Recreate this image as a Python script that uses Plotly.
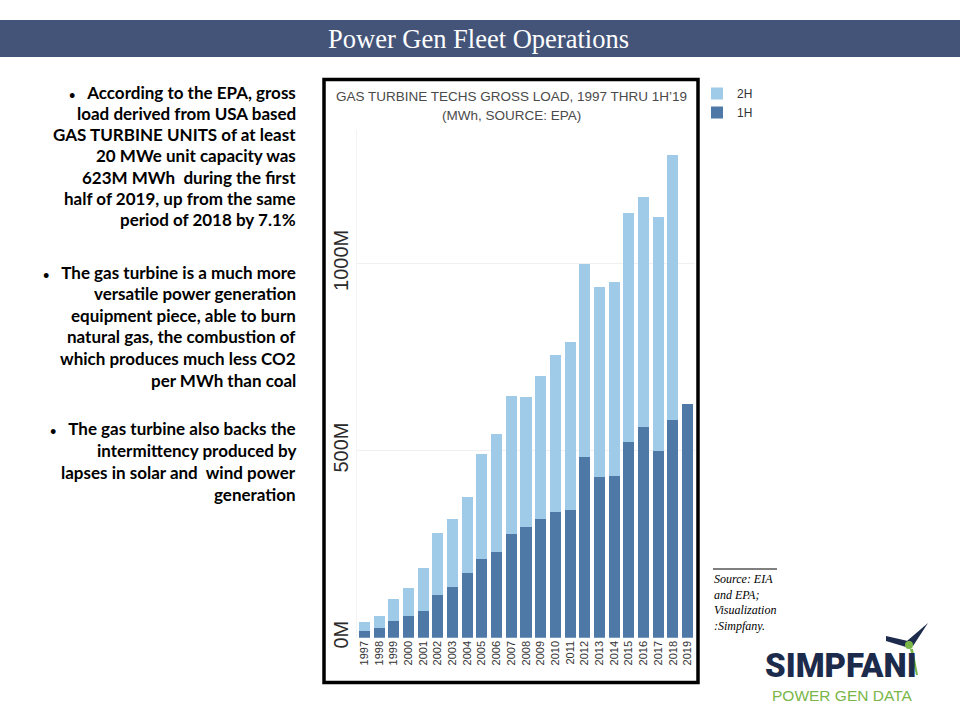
import plotly.graph_objects as go

years = [str(y) for y in range(1997, 2020)]
h1 = [17, 25, 44, 57, 72, 115, 135, 172, 210, 229, 276, 296, 316, 335, 342,
      483, 428, 432, 523, 562, 500, 582, 623]
total = [41, 58, 103, 132, 186, 280, 316, 376, 492, 545, 645, 642, 699, 755, 791,
         997, 937, 950, 1135, 1177, 1124, 1290, None]
h2 = [None if t is None else t - a for t, a in zip(total, h1)]
ytick_vals = [0, 500, 1000]
ytick_text = ["0M", "500M", "1000M"]

W, H = 960, 720
def px(x):
    return x / W
def py(y):
    return 1 - y / H

DARK = "#4e79a7"
LIGHT = "#a0cbe8"

fig = go.Figure()
fig.add_trace(go.Bar(x=years, y=h1, name="1H", marker_color=DARK, marker_line_width=0))
fig.add_trace(go.Bar(x=years, y=h2, name="2H", marker_color=LIGHT, marker_line_width=0))

y_bottom_px = 637.7
y_top_px = 130
scale = 0.3744  # px per M
ymax = (y_bottom_px - y_top_px) / scale

fig.update_layout(
    template="none",
    width=W, height=H,
    margin=dict(l=0, r=0, t=0, b=0, autoexpand=False),
    paper_bgcolor="white", plot_bgcolor="white",
    barmode="stack", bargap=0.25,
    showlegend=True,
    legend=dict(x=px(697), y=py(79), xanchor="left", yanchor="top",
                traceorder="reversed", font=dict(family="Liberation Sans", size=12, color="#333"),
                bgcolor="rgba(0,0,0,0)", itemwidth=30, tracegroupgap=0, borderwidth=0),
    xaxis=dict(domain=[px(357), px(695)], type="category", tickangle=-90, automargin=False,
               tickfont=dict(family="Liberation Sans", size=11, color="#333"),
               showgrid=False, showline=False, zeroline=False, ticks=""),
    yaxis=dict(domain=[py(y_bottom_px), py(y_top_px)], range=[0, ymax], automargin=False,
               tickvals=ytick_vals, ticktext=ytick_text, tickangle=-90,
               tickfont=dict(family="Liberation Sans", size=20, color="#2a2a2a"),
               showgrid=True, gridcolor="#f0f0f0", gridwidth=1,
               zeroline=False, showline=True, linecolor="#f3f3f3", ticks=""),
)

shapes = []
# title bar
shapes.append(dict(type="rect", xref="paper", yref="paper", x0=0, x1=1,
                   y0=py(57), y1=py(20), fillcolor="#445479", line_width=0, layer="below"))
# chart border
shapes.append(dict(type="rect", xref="paper", yref="paper", x0=px(324), x1=px(698),
                   y0=py(682.5), y1=py(79.5), line=dict(color="black", width=3.5)))
# source line
shapes.append(dict(type="line", xref="paper", yref="paper", x0=px(713), x1=px(777),
                   y0=py(569), y1=py(569), line=dict(color="black", width=1)))

def path(points):
    return "M " + " L ".join(f"{px(x):.5f},{py(y):.5f}" for x, y in points) + " Z"

NAVY = "#1c2b4b"
GREEN = "#7ab648"
# turbine blades
shapes.append(dict(type="path", xref="paper", yref="paper",
                   path=path([(886, 636), (908, 641), (906, 647), (886, 641)]),
                   fillcolor=NAVY, line_width=0))
shapes.append(dict(type="path", xref="paper", yref="paper",
                   path=path([(928, 623), (913, 646), (907, 641)]),
                   fillcolor=NAVY, line_width=0))
# tower
shapes.append(dict(type="path", xref="paper", yref="paper",
                   path=path([(910, 649), (913, 649), (918, 675), (916, 675)]),
                   fillcolor=GREEN, line_width=0))
# hub
shapes.append(dict(type="circle", xref="paper", yref="paper",
                   x0=px(905), x1=px(913), y0=py(649), y1=py(641),
                   fillcolor=GREEN, line_width=0))
fig.update_layout(shapes=shapes)

ann = []
ann.append(dict(text="Power Gen Fleet Operations", x=px(478), y=py(39), xref="paper", yref="paper",
                showarrow=False, xanchor="center", yanchor="middle",
                font=dict(family="Liberation Serif", size=26.5, color="white")))
ann.append(dict(text="GAS TURBINE TECHS GROSS LOAD, 1997 THRU 1H\u201919", x=px(511), y=py(97),
                xref="paper", yref="paper", showarrow=False, xanchor="center", yanchor="middle",
                font=dict(family="Liberation Sans", size=13.5, color="#4a4a4a")))
ann.append(dict(text="(MWh, SOURCE: EPA)", x=px(511), y=py(116),
                xref="paper", yref="paper", showarrow=False, xanchor="center", yanchor="middle",
                font=dict(family="Liberation Sans", size=13.5, color="#4a4a4a")))

NB = "\u00a0"
BUL = "<span style='font-size:11px'>\u2022</span>" + NB * 3
para1 = [BUL + "According to the EPA, gross",
         "load derived from USA based",
         "GAS TURBINE UNITS of at least",
         "20 MWe unit capacity was",
         "623M MWh" + NB * 2 + "during the first",
         "half of 2019, up from the same",
         "period of 2018 by 7.1%"]
para2 = [BUL + "The gas turbine is a much more",
         "versatile power generation",
         "equipment piece, able to burn",
         "natural gas, the combustion of",
         "which produces much less CO2",
         "per MWh than coal"]
para3 = [BUL + "The gas turbine also backs the",
         "intermittency produced by",
         "lapses in solar and" + NB * 2 + "wind power",
         "generation"]
for lines, first, step in [(para1, 92, 21.33), (para2, 272, 21.6), (para3, 428, 22)]:
    for i, line in enumerate(lines):
        ann.append(dict(text=line, x=px(298), y=py(first + i * step),
                        xref="paper", yref="paper", showarrow=False,
                        xanchor="right", yanchor="middle", align="right",
                        font=dict(family="Lato", size=17, color="black", weight="bold")))

ann.append(dict(text="Source: EIA<br>and EPA;<br>Visualization<br>:Simpfany.",
                x=px(712), y=py(570), xref="paper", yref="paper", showarrow=False,
                xanchor="left", yanchor="top", align="left",
                font=dict(family="Liberation Serif", size=12, color="black", style="italic")))
ann.append(dict(text="SIMPFANI", x=px(841), y=py(665), xref="paper", yref="paper",
                showarrow=False, xanchor="center", yanchor="middle",
                font=dict(family="Roboto", size=33, color=NAVY, weight=900)))
ann.append(dict(text="POWER GEN DATA", x=px(842), y=py(695), xref="paper", yref="paper",
                showarrow=False, xanchor="center", yanchor="middle",
                font=dict(family="Liberation Sans", size=15.5, color=GREEN)))
fig.update_layout(annotations=ann)

fig.write_html("out.html")
